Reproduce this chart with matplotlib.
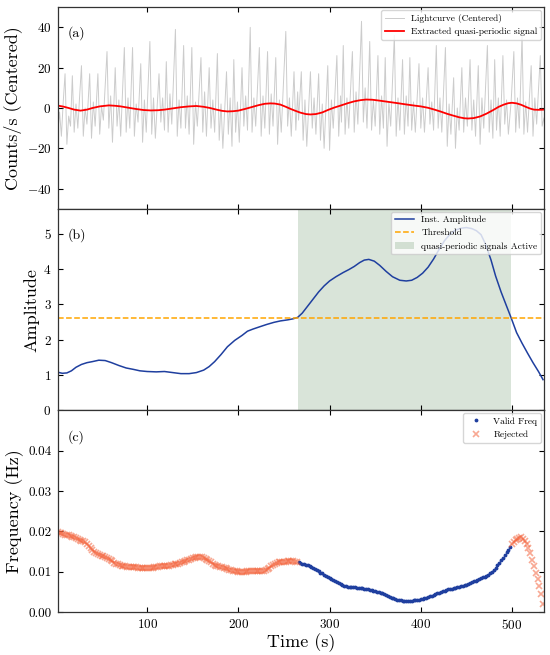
import numpy as np
import matplotlib
matplotlib.use("Agg")
import matplotlib.pyplot as plt

plt.rcParams['font.family'] = 'serif'
plt.rcParams['font.serif'] = ['cmr10']
plt.rcParams['mathtext.fontset'] = 'cm'
plt.rcParams['axes.formatter.use_mathtext'] = True
plt.rcParams['axes.unicode_minus'] = True

# Lightcurve (centered), counts/s
lc_time = [2, 4, 6, 8, 10, 12, 14, 16, 18, 20, 22, 24, 26, 28, 30, 32, 34, 37, 39, 41,
           43, 46, 48, 50, 52, 56, 58, 60, 62, 65, 67, 69, 71, 75, 77, 79, 81, 84, 86, 88,
           90, 93, 95, 97, 99, 103, 105, 107, 109, 113, 115, 117, 119, 121, 123, 125, 127, 131, 133, 135,
           137, 140, 142, 144, 146, 149, 151, 153, 155, 159, 161, 163, 165, 168, 170, 172, 174, 177, 179, 181,
           183, 187, 189, 191, 193, 195, 197, 199, 201, 204, 206, 208, 210, 213, 215, 217, 219, 223, 225, 227,
           229, 232, 234, 236, 238, 241, 243, 245, 247, 252, 254, 256, 258, 261, 263, 265, 266, 269, 271, 273,
           275, 279, 281, 283, 285, 288, 290, 292, 294, 298, 300, 302, 304, 308, 310, 312, 313, 315, 317, 319,
           321, 325, 327, 329, 331, 335, 337, 339, 341, 344, 346, 348, 350, 353, 355, 357, 359, 361, 363, 365,
           367, 371, 373, 375, 377, 380, 382, 384, 386, 388, 390, 392, 394, 398, 400, 402, 404, 408, 410, 412,
           414, 417, 419, 421, 423, 427, 429, 431, 433, 436, 438, 440, 442, 445, 447, 449, 451, 454, 456, 458,
           460, 463, 465, 467, 469, 473, 475, 477, 479, 481, 483, 485, 487, 490, 492, 494, 496, 499, 502, 504,
           506, 508, 511, 513, 515, 517, 521, 523, 525, 527, 531, 533, 535]
lc_counts = [-12, -2, -14, 3, 17, -18, -4, -9, 16, -12, 2, -10, 6, 21, -14, 0, -8, 17, -15, 3,
             -9, 17, -13, 1, -6, 28, -10, 6, -17, 20, -9, 4, -14, 30, -12, 5, -10, 30, -14, 2,
             -7, 22, -17, 4, -12, 33, -13, 5, -15, 17, -7, 5, -11, 23, -12, 7, -8, 39, -14, 4,
             -10, 31, -10, 6, -13, 30, -18, 3, -9, 25, -12, 8, -14, 20, -10, 4, -12, 27, -16, 2,
             -20, 18, -13, 5, -19, 24, -12, 3, -17, 20, -9, 6, -11, 40, -12, 5, -9, 30, -14, 6,
             -10, 28, -13, 7, -9, 25, -18, 4, -12, 38, -9, 5, -14, 18, -11, 8, -6, 18, -16, 4,
             -19, 18, -10, 5, -13, 17, -16, 2, -20, 21, -21, 4, -10, 26, -14, 6, -7, 31, -13, 5,
             -10, 28, -12, 8, -8, 43, -7, 10, -10, 33, -11, 4, -9, 26, -13, 6, -10, 25, -19, 3,
             -9, 36, -14, 5, -11, 24, -13, 6, -9, 25, -11, 3, -12, 22, -10, 5, -12, 20, -8, 3,
             -11, 31, -10, 5, -12, 30, -19, 2, -13, 15, -20, 0, -11, 20, -12, 5, -9, 24, -11, 4,
             -14, 21, -18, 5, -10, 31, -12, 4, -15, 24, -11, 5, -14, 26, -8, 4, -13, 3, 28, -12,
             5, -10, 36, -13, 3, -12, 21, -14, 5, -8, 26, -9, -5]

# Extracted quasi-periodic signal
qpo_time = [2, 8, 14, 20, 27, 34, 40, 48, 58, 65, 71, 80, 88, 96, 104, 112, 119, 128, 137, 146,
            154, 162, 169, 176, 182, 188, 194, 200, 207, 215, 222, 229, 235, 240, 246, 252, 257, 262, 268, 274,
            279, 285, 292, 298, 305, 312, 320, 327, 334, 340, 347, 354, 362, 373, 385, 393, 400, 408, 415, 422,
            429, 435, 442, 448, 452, 458, 465, 472, 479, 485, 491, 496, 500, 505, 510, 515, 520, 524, 529, 535]
qpo_signal = [1.2, 0.7, 0.0, -0.8, -1.3, -0.8, 0.0, 0.8, 1.3, 1.1, 0.8, 0.1, -0.5, -1.0, -1.2, -1.1, -0.8, -0.2, 0.4, 0.8,
              1.0, 0.6, 0.0, -0.8, -1.4, -1.7, -1.6, -1.3, -0.5, 0.5, 1.4, 2.1, 2.3, 2.2, 1.7, 0.6, -0.4, -1.3, -2.3, -3.0,
              -3.2, -3.0, -2.2, -1.0, 0.2, 1.2, 2.4, 3.3, 3.9, 4.2, 4.1, 3.7, 3.2, 2.5, 1.7, 1.2, 0.8, 0.1, -0.8, -1.8,
              -2.9, -3.7, -4.6, -5.1, -5.2, -5.0, -4.2, -2.8, -1.1, 0.5, 1.7, 2.4, 2.6, 2.3, 1.6, 0.6, -0.3, -0.8, -0.9, -0.8]

# Instantaneous amplitude
amp_time = [2, 7, 12, 17, 22, 28, 34, 40, 47, 54, 61, 69, 77, 85, 92, 100, 110, 119, 128, 137,
            146, 154, 162, 168, 174, 181, 188, 196, 204, 210, 216, 224, 231, 239, 246, 254, 260, 265, 270, 276,
            282, 288, 294, 300, 307, 315, 321, 327, 333, 338, 343, 349, 355, 362, 369, 377, 384, 390, 396, 402,
            408, 414, 420, 426, 432, 438, 444, 450, 456, 461, 466, 471, 477, 482, 488, 494, 499, 505, 511, 517,
            523, 529, 534]
amplitude = [1.08, 1.05, 1.06, 1.12, 1.22, 1.30, 1.35, 1.38, 1.42, 1.41, 1.35, 1.27, 1.20, 1.16, 1.12, 1.10, 1.09, 1.10, 1.07, 1.04,
             1.04, 1.07, 1.14, 1.24, 1.38, 1.58, 1.80, 1.98, 2.12, 2.24, 2.30, 2.37, 2.43, 2.49, 2.53, 2.56, 2.59, 2.63, 2.75, 2.95,
             3.15, 3.35, 3.52, 3.66, 3.78, 3.90, 3.98, 4.07, 4.18, 4.25, 4.27, 4.22, 4.10, 3.93, 3.78, 3.68, 3.66, 3.68, 3.76, 3.88,
             4.05, 4.28, 4.55, 4.80, 4.98, 5.10, 5.15, 5.17, 5.14, 5.08, 4.97, 4.70, 4.25, 3.80, 3.35, 2.95, 2.62, 2.20, 1.90, 1.62,
             1.35, 1.10, 0.87]
threshold = 2.62
active_start, active_end = 265, 499

# Instantaneous frequency, sampled every 2 s from t = 2 s
freq_values = [0.0198, 0.0196, 0.0195, 0.0194, 0.0192, 0.0191, 0.0190, 0.0188, 0.0187, 0.0185,
               0.0183, 0.0181, 0.0179, 0.0177, 0.0176, 0.0173, 0.0169, 0.0164, 0.0159, 0.0153,
               0.0149, 0.0146, 0.0143, 0.0141, 0.0140, 0.0139, 0.0137, 0.0135, 0.0132, 0.0129,
               0.0126, 0.0122, 0.0120, 0.0118, 0.0116, 0.0114, 0.0113, 0.0113, 0.0112, 0.0112,
               0.0112, 0.0111, 0.0111, 0.0111, 0.0110, 0.0109, 0.0109, 0.0108, 0.0108, 0.0108,
               0.0108, 0.0109, 0.0110, 0.0111, 0.0112, 0.0112, 0.0113, 0.0113, 0.0114, 0.0114,
               0.0115, 0.0115, 0.0116, 0.0117, 0.0118, 0.0119, 0.0120, 0.0122, 0.0123, 0.0124,
               0.0126, 0.0128, 0.0130, 0.0132, 0.0134, 0.0135, 0.0136, 0.0137, 0.0137, 0.0136,
               0.0135, 0.0132, 0.0129, 0.0126, 0.0123, 0.0120, 0.0117, 0.0115, 0.0114, 0.0112,
               0.0111, 0.0109, 0.0108, 0.0107, 0.0105, 0.0104, 0.0103, 0.0102, 0.0101, 0.0100,
               0.0100, 0.0100, 0.0100, 0.0100, 0.0101, 0.0101, 0.0101, 0.0101, 0.0101, 0.0101,
               0.0102, 0.0102, 0.0102, 0.0103, 0.0105, 0.0107, 0.0110, 0.0113, 0.0116, 0.0119,
               0.0121, 0.0123, 0.0124, 0.0125, 0.0125, 0.0125, 0.0126, 0.0126, 0.0126, 0.0126,
               0.0125, 0.0124, 0.0123, 0.0121, 0.0120, 0.0119, 0.0117, 0.0116, 0.0114, 0.0112,
               0.0109, 0.0106, 0.0104, 0.0101, 0.0098, 0.0096, 0.0093, 0.0090, 0.0088, 0.0085,
               0.0082, 0.0080, 0.0077, 0.0074, 0.0072, 0.0069, 0.0067, 0.0065, 0.0064, 0.0063,
               0.0062, 0.0061, 0.0061, 0.0061, 0.0060, 0.0060, 0.0060, 0.0059, 0.0058, 0.0057,
               0.0056, 0.0055, 0.0054, 0.0053, 0.0052, 0.0050, 0.0049, 0.0048, 0.0046, 0.0044,
               0.0042, 0.0040, 0.0038, 0.0036, 0.0034, 0.0033, 0.0031, 0.0030, 0.0029, 0.0028,
               0.0028, 0.0028, 0.0028, 0.0028, 0.0028, 0.0029, 0.0029, 0.0030, 0.0031, 0.0032,
               0.0033, 0.0034, 0.0036, 0.0037, 0.0039, 0.0041, 0.0042, 0.0044, 0.0046, 0.0048,
               0.0050, 0.0052, 0.0053, 0.0054, 0.0056, 0.0057, 0.0058, 0.0059, 0.0060, 0.0061,
               0.0063, 0.0064, 0.0065, 0.0067, 0.0068, 0.0070, 0.0072, 0.0074, 0.0076, 0.0078,
               0.0080, 0.0082, 0.0084, 0.0086, 0.0088, 0.0090, 0.0093, 0.0096, 0.0100, 0.0105,
               0.0110, 0.0116, 0.0122, 0.0128, 0.0134, 0.0141, 0.0148, 0.0155, 0.0162, 0.0168,
               0.0174, 0.0179, 0.0182, 0.0184, 0.0185, 0.0182, 0.0176, 0.0168, 0.0158, 0.0146,
               0.0130, 0.0115, 0.0098, 0.0082, 0.0065, 0.0045, 0.0020]
freq_time = 2 * np.arange(1, len(freq_values) + 1)
freq_values = np.array(freq_values)
valid = (freq_time >= active_start) & (freq_time <= active_end)

blue = '#1f3f9f'

fig, axes = plt.subplots(3, 1, figsize=(5.5, 6.55), dpi=100, sharex=True)
fig.subplots_adjust(left=0.105, right=0.989, top=0.989, bottom=0.0656, hspace=0)
ax1, ax2, ax3 = axes

# (a) lightcurve
ax1.plot(lc_time, lc_counts, color='gray', alpha=0.4, lw=0.7, label='Lightcurve (Centered)')
ax1.plot(qpo_time, qpo_signal, color='red', lw=1.3, label='Extracted quasi-periodic signal')
ax1.set_ylim(-50, 50)
ax1.set_yticks([-40, -20, 0, 20, 40])
ax1.set_ylabel('Counts/s (Centered)', fontsize=13, labelpad=3)
ax1.legend(loc='upper right', fontsize=6.8, borderaxespad=0.3)

# (b) amplitude
ax2.axvspan(active_start, active_end, color='#2e6b2e', alpha=0.18, lw=0,
            label='quasi-periodic signals Active')
ax2.plot(amp_time, amplitude, color=blue, lw=1.1, label='Inst. Amplitude')
ax2.axhline(threshold, color='orange', ls='--', lw=1.1, label='Threshold')
ax2.set_ylim(0, 5.7)
ax2.set_yticks([0, 1, 2, 3, 4, 5])
ax2.set_ylabel('Amplitude', fontsize=13, labelpad=3)
h, l = ax2.get_legend_handles_labels()
ax2.legend([h[1], h[2], h[0]], [l[1], l[2], l[0]], loc='upper right', fontsize=6.8, borderaxespad=0.3)

# (c) frequency
ax3.plot(freq_time[valid], freq_values[valid], '.', color=blue, ms=3.5, label='Valid Freq')
ax3.plot(freq_time[~valid], freq_values[~valid], 'x', color='#f4623a', alpha=0.55, ms=4, mew=1.2,
         label='Rejected')
ax3.set_ylim(0, 0.05)
ax3.set_yticks([0, 0.01, 0.02, 0.03, 0.04])
ax3.set_yticklabels(['0.00', '0.01', '0.02', '0.03', '0.04'])
ax3.set_ylabel('Frequency (Hz)', fontsize=13, labelpad=3)
ax3.set_xlabel('Time (s)', fontsize=13, labelpad=1)
ax3.legend(loc='upper right', fontsize=6.8, borderaxespad=0.3)

ax3.set_xlim(2, 535)
ax3.set_xticks([100, 200, 300, 400, 500])

for ax, tag in zip(axes, ['(a)', '(b)', '(c)']):
    ax.text(0.02, 0.87, tag, transform=ax.transAxes, fontsize=10, va='center')
    ax.tick_params(direction='in', top=True, right=True, labelsize=9.5, length=3.5, width=0.8, pad=4.5)
    for s in ax.spines.values():
        s.set_linewidth(0.9)
        s.set_color('#333333')

fig.savefig('out.png', dpi=100)
